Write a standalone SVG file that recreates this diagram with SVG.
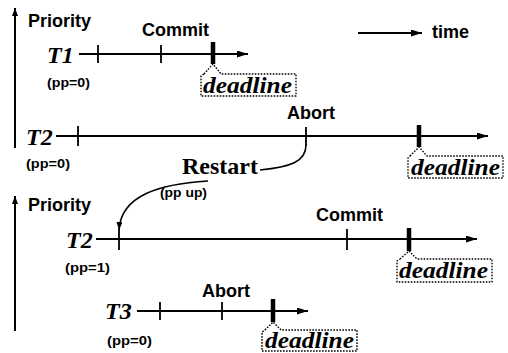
<svg xmlns="http://www.w3.org/2000/svg" width="508" height="353" viewBox="0 0 508 353">
<style>
.ln{stroke:#000;stroke-width:2;fill:none}
.tk{stroke:#000;stroke-width:1.8}
.dl{stroke:#000;stroke-width:4.5}
.box{stroke:#000;stroke-width:1.4;stroke-dasharray:1.6 1.4;fill:none;stroke-linejoin:round}
.lab{font-family:"Liberation Sans",Arial,sans-serif;font-weight:bold;font-size:18px;fill:#000}
.pp{font-family:"Liberation Sans",Arial,sans-serif;font-weight:bold;font-size:13px;fill:#000}
.tn{font-family:"Liberation Serif","Times New Roman",serif;font-weight:bold;font-style:italic;font-size:24px;fill:#000}
.dt{font-family:"Liberation Serif","Times New Roman",serif;font-weight:bold;font-style:italic;font-size:23px;fill:#000}
.rs{font-family:"Liberation Serif","Times New Roman",serif;font-weight:bold;font-size:23px;fill:#000}
</style>
<defs>
<marker id="ah" markerUnits="userSpaceOnUse" markerWidth="12" markerHeight="8" refX="11" refY="3.5" orient="auto">
<path d="M0,0 L11,3.5 L0,7 Z" fill="#000"/>
</marker>
<marker id="ahs" markerUnits="userSpaceOnUse" markerWidth="10" markerHeight="8" refX="8" refY="3" orient="auto">
<path d="M0,0 L8,3 L0,6 Z" fill="#000"/>
</marker>
</defs>
<rect width="508" height="353" fill="#fff"/>

<g id="axis1">
<line class="ln" x1="15" y1="148" x2="15" y2="8" marker-end="url(#ahs)"/>
<text class="lab" x="28" y="27">Priority</text>
</g>
<g id="axis2">
<line class="ln" x1="15" y1="331" x2="15" y2="196" marker-end="url(#ahs)"/>
<text class="lab" x="28" y="211">Priority</text>
</g>
<g id="legend">
<line class="ln" x1="358" y1="33" x2="422" y2="33" marker-end="url(#ah)"/>
<text class="lab" x="432" y="38">time</text>
</g>

<g id="T1">
<text class="tn" x="47" y="63">T1</text>
<text class="pp" x="47" y="87" textLength="43" lengthAdjust="spacingAndGlyphs">(pp=0)</text>
<line class="ln" x1="79" y1="54" x2="248" y2="54" marker-end="url(#ah)"/>
<line class="tk" x1="98" y1="45" x2="98" y2="63"/>
<line class="tk" x1="161" y1="45" x2="161" y2="63"/>
<line class="dl" x1="213" y1="42" x2="213" y2="64"/>
<text class="lab" x="142" y="36">Commit</text>
<path class="box" d="M204,74 L213,64 L221,74 L296,74 L296,96 L201,96 L201,76 Z"/>
<text class="dt" x="203" y="93" textLength="89" lengthAdjust="spacingAndGlyphs">deadline</text>
</g>

<g id="T2a">
<text class="tn" x="26" y="145">T2</text>
<text class="pp" x="26" y="168" textLength="44" lengthAdjust="spacingAndGlyphs">(pp=0)</text>
<line class="ln" x1="56" y1="136" x2="488" y2="136" marker-end="url(#ah)"/>
<line class="tk" x1="78" y1="126" x2="78" y2="146"/>
<line class="tk" x1="306" y1="127" x2="306" y2="146"/>
<line class="dl" x1="419" y1="125" x2="419" y2="147"/>
<text class="lab" x="287" y="119">Abort</text>
<path class="box" d="M410,156 L419,147 L427,156 L503,156 L503,178 L408,178 L408,158 Z"/>
<text class="dt" x="411" y="175" textLength="89" lengthAdjust="spacingAndGlyphs">deadline</text>
</g>

<g id="restart">
<text class="rs" x="182" y="174" textLength="76" lengthAdjust="spacingAndGlyphs">Restart</text>
<text class="pp" x="160" y="197" textLength="47" lengthAdjust="spacingAndGlyphs">(pp up)</text>
</g>

<g id="T2b">
<text class="tn" x="66" y="248">T2</text>
<text class="pp" x="65" y="272" textLength="45" lengthAdjust="spacingAndGlyphs">(pp=1)</text>
<line class="ln" x1="96" y1="239" x2="477" y2="239" marker-end="url(#ah)"/>
<line class="tk" x1="119" y1="229" x2="119" y2="250"/>
<line class="tk" x1="347" y1="229" x2="347" y2="250"/>
<line class="dl" x1="409" y1="228" x2="409" y2="251"/>
<text class="lab" x="316" y="221">Commit</text>
<path class="box" d="M400,259 L409,251 L417,259 L492,259 L492,282 L397,282 L397,261 Z"/>
<text class="dt" x="399" y="278" textLength="89" lengthAdjust="spacingAndGlyphs">deadline</text>
</g>

<g id="T3">
<text class="tn" x="105" y="319">T3</text>
<text class="pp" x="107" y="345" textLength="45" lengthAdjust="spacingAndGlyphs">(pp=0)</text>
<line class="ln" x1="137" y1="311" x2="308" y2="311" marker-end="url(#ah)"/>
<line class="tk" x1="160" y1="302" x2="160" y2="320"/>
<line class="tk" x1="222" y1="302" x2="222" y2="320"/>
<line class="dl" x1="273" y1="299" x2="273" y2="322"/>
<text class="lab" x="202" y="297">Abort</text>
<path class="box" d="M265,330 L273,322 L281,330 L357,330 L357,351 L262,351 L262,332 Z"/>
<text class="dt" x="265" y="348" textLength="89" lengthAdjust="spacingAndGlyphs">deadline</text>
</g>

<g id="connectors">
<path class="ln" style="stroke-width:1.6" d="M306,145 C306,162 290,167 260,170"/>
<path class="ln" style="stroke-width:1.6" d="M208,181 C160,184 121,195 119,230" marker-end="url(#ahs)"/>
</g>
</svg>
